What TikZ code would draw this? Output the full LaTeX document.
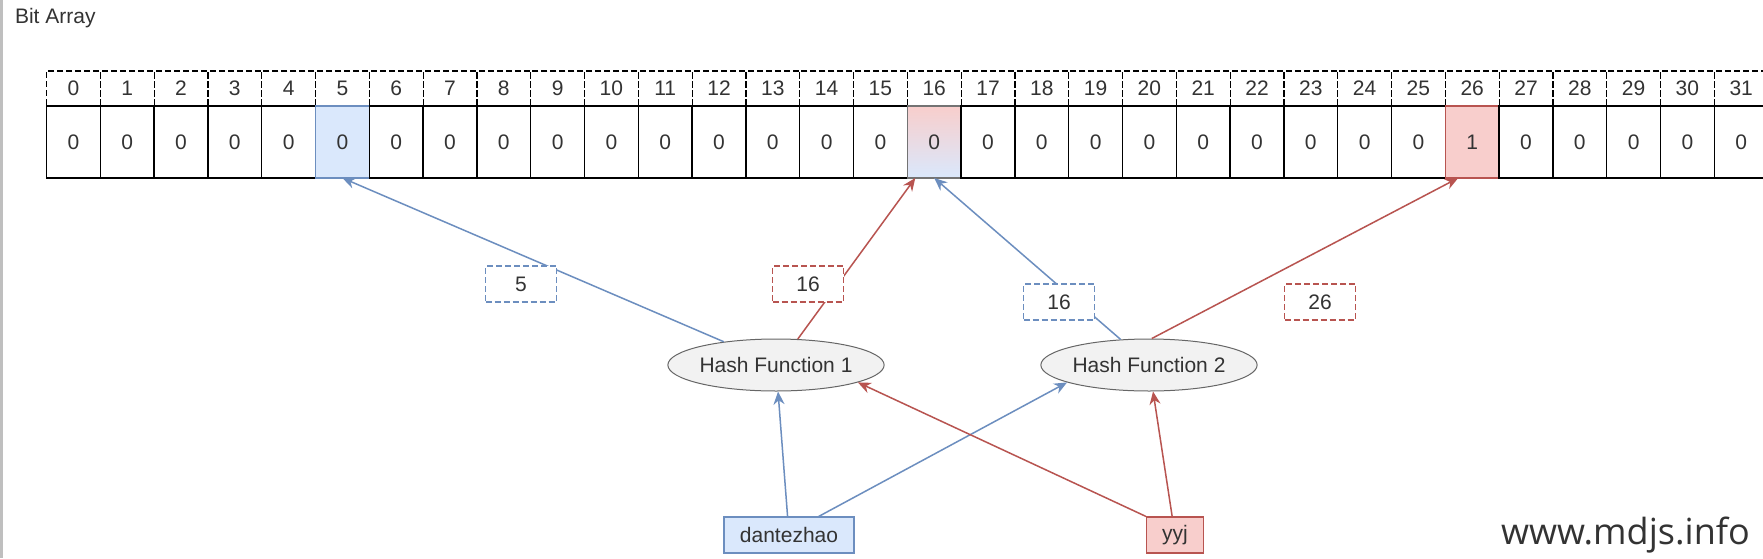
\documentclass[tikz,border=0pt]{standalone}
\usepackage{fontspec}
\setmainfont{Liberation Sans}
\newfontfamily\wmfont{Open Sans}
\usetikzlibrary{arrows.meta, positioning, shapes, calc}

\definecolor{bluefill}{HTML}{DAE8FC}
\definecolor{bluedraw}{HTML}{6C8EBF}
\definecolor{redfill}{HTML}{F8CECC}
\definecolor{reddraw}{HTML}{B85450}
\definecolor{txtgray}{HTML}{333333}
\definecolor{fnfill}{HTML}{F2F2F2}
\definecolor{fndraw}{HTML}{666666}

\tikzset{
    every node/.style={text=txtgray, font=\fontsize{10.5}{12}\selectfont},
    idxcell/.style={rectangle, draw, dash pattern=on 3pt off 1.5pt, line width=0.6pt, minimum width=26.9pt, minimum height=17.5pt, inner sep=0pt, outer sep=0pt},
    bitcell/.style={rectangle, draw, line width=0.7pt, minimum width=26.9pt, minimum height=36pt, inner sep=0pt, outer sep=0pt},
    hl5/.style={fill=bluefill, draw=bluedraw},
    hl16/.style={top color=redfill, bottom color=bluefill, draw=black!55},
    hl26/.style={fill=redfill, draw=reddraw},
    hashfn/.style={ellipse, draw=fndraw, fill=fnfill, line width=0.5pt, minimum width=107pt, minimum height=26pt, inner sep=0pt},
    keybox/.style={rectangle, line width=0.6pt, minimum height=18pt, inner sep=0pt},
    hashval/.style={rectangle, dash pattern=on 3pt off 1.5pt, fill=white, line width=0.55pt, minimum width=35.5pt, minimum height=18pt, inner sep=0pt},
    blueline/.style={draw=bluedraw, line width=0.75pt, -{Stealth[length=6.5pt, width=5.5pt]}},
    redline/.style={draw=reddraw, line width=0.75pt, -{Stealth[length=6.5pt, width=5.5pt]}}
}

\begin{document}
\begin{tikzpicture}[x=0.5pt, y=-0.5pt]
    \clip (0,0) rectangle (1763,558);
    \fill[white] (0,0) rectangle (1763,558);
    \fill[black!25] (0,0) rectangle (3,558);

    \node[anchor=west] (title) at (8,18) {Bit Array};

    % bit array
    \foreach \i in {0,...,31} {
        \node[idxcell] (h\i) at ({73.4+53.8*\i},88.5) {\i};
        \node[bitcell, hl\i/.try] (c\i) at ({73.4+53.8*\i},142) {\ifnum\i=26 1\else 0\fi};
    }

    \node[hashfn] (hf1) at (776,365) {Hash Function 1};
    \node[hashfn] (hf2) at (1149,365) {Hash Function 2};

    \node[keybox, draw=bluedraw, fill=bluefill, minimum width=65pt] (dz) at (789,535) {dantezhao};
    \node[keybox, draw=reddraw, fill=redfill, minimum width=28.5pt] (yyj) at (1175,535) {yyj};

    % keys into hash functions
    \draw[blueline] (dz) -- (hf1);
    \draw[blueline] (dz.32) -- (hf2.192);
    \draw[redline] (yyj.north west) -- (hf1.348);
    \draw[redline] (yyj) -- (hf2);

    % hash functions into bits
    \draw[blueline] (hf1.156) -- (c5.south);
    \draw[redline] (hf1.50) -- ($(c16.south west)+(8,0)$);
    \draw[blueline] (hf2.138) -- (c16.south);
    \draw[redline] (hf2.84) -- ($(c26.south)+(-14,0)$);

    \node[hashval, draw=bluedraw] (v5) at (521,284) {5};
    \node[hashval, draw=reddraw] (v16a) at (808,284) {16};
    \node[hashval, draw=bluedraw] (v16b) at (1059,302) {16};
    \node[hashval, draw=reddraw] (v26) at (1320,302) {26};

    \node[anchor=west, font=\wmfont\fontsize{18}{20}\selectfont] (wm) at (1494,535) {www.mdjs.info};
\end{tikzpicture}
\end{document}
